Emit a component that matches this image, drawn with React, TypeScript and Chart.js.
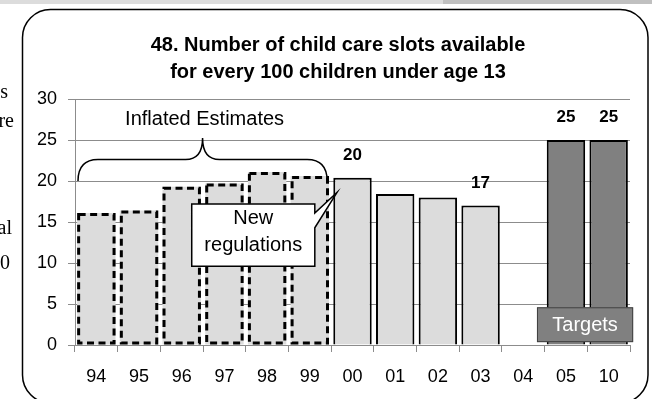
import React, { useEffect, useRef } from 'react';
import { Chart, registerables } from 'chart.js';

Chart.register(...registerables);

// ---------- data ----------
const years = ['94', '95', '96', '97', '98', '99', '00', '01', '02', '03', '04', '05', '10'];
const inflatedYears = ['94', '95', '96', '97', '98', '99'];
const inflatedValues = [16.1, 16.4, 19.3, 19.7, 21.1, 20.6];
const actualYears = ['00', '01', '02', '03'];
const actualValues = [20.4, 18.4, 18.0, 17.0];
const targetYears = ['05', '10'];
const targetValues = [25, 25];
const labelledYears = ['00', '03', '05', '10'];
const titleLines = ['48. Number of child care slots available', 'for every 100 children under age 13'];
const yMin = 0;
const yMax = 30;
const yStep = 5;
const braceLabel = 'Inflated Estimates';
const calloutLines = ['New', 'regulations'];
const targetsLabel = 'Targets';
const sideFragments = ['s', 're', 'al', '0'];

const SANS = '"Liberation Sans", Arial, Helvetica, sans-serif';
const SERIF = '"Liberation Serif", "Times New Roman", serif';

function seriesFor(keys: string[], values: number[]) {
  return years.map((y) => {
    const k = keys.indexOf(y);
    return k >= 0 ? values[k] : null;
  });
}

const inflatedData = seriesFor(inflatedYears, inflatedValues);
const actualData = seriesFor(actualYears, actualValues);
const targetData = seriesFor(targetYears, targetValues);

const decorPlugin = {
  id: 'decor',
  beforeDraw(chart: any) {
    const ctx = chart.ctx as CanvasRenderingContext2D;
    const W = chart.width;
    const H = chart.height;
    ctx.save();
    ctx.fillStyle = '#ffffff';
    ctx.fillRect(0, 0, W, H);
    // page band at top
    ctx.fillStyle = '#dcdcdc';
    ctx.fillRect(0, 0, 443, 4);
    ctx.fillStyle = '#c0c0c0';
    ctx.fillRect(443, 0, W - 443, 4);
    // rounded frame
    const fl = 22.5, ft = 9.5, fr = 648, fb = 403, r = 28;
    ctx.beginPath();
    ctx.moveTo(fl + r, ft);
    ctx.lineTo(fr - r, ft);
    ctx.arcTo(fr, ft, fr, ft + r, r);
    ctx.lineTo(fr, fb - r);
    ctx.arcTo(fr, fb, fr - r, fb, r);
    ctx.lineTo(fl + r, fb);
    ctx.arcTo(fl, fb, fl, fb - r, r);
    ctx.lineTo(fl, ft + r);
    ctx.arcTo(fl, ft, fl + r, ft, r);
    ctx.closePath();
    ctx.strokeStyle = '#000';
    ctx.lineWidth = 1.5;
    ctx.stroke();
    // clipped page text on the left
    const rights = [8, 14, 12, 10];
    const baselines = [98, 127, 234, 269];
    ctx.fillStyle = '#000';
    ctx.font = `20px ${SERIF}`;
    ctx.textAlign = 'right';
    ctx.textBaseline = 'alphabetic';
    sideFragments.forEach((t, i) => ctx.fillText(t, rights[i], baselines[i]));
    ctx.restore();
  },
  afterDatasetsDraw(chart: any) {
    const ctx = chart.ctx as CanvasRenderingContext2D;
    ctx.save();
    // dashed outlines for the inflated estimates
    const meta0 = chart.getDatasetMeta(0);
    ctx.strokeStyle = '#000';
    ctx.lineWidth = 3;
    ctx.setLineDash([7, 4.5]);
    meta0.data.forEach((bar: any, i: number) => {
      if (inflatedData[i] == null) return;
      const { x, y, base, width } = bar.getProps(['x', 'y', 'base', 'width'], true);
      ctx.strokeRect(x - width / 2 + 1.5, y + 1.5, width - 3, base - y - 3);
    });
    ctx.setLineDash([]);
    // value labels
    ctx.fillStyle = '#000';
    ctx.font = `bold 17px ${SANS}`;
    ctx.textAlign = 'center';
    ctx.textBaseline = 'middle';
    [1, 2].forEach((di) => {
      const meta = chart.getDatasetMeta(di);
      const data = chart.data.datasets[di].data;
      meta.data.forEach((bar: any, i: number) => {
        const v = data[i];
        if (v == null || !labelledYears.includes(years[i])) return;
        const { x, y } = bar.getProps(['x', 'y'], true);
        ctx.fillText(String(Math.round(v)), x, y - 22.5);
      });
    });
    ctx.restore();
  },
  afterDraw(chart: any) {
    const ctx = chart.ctx as CanvasRenderingContext2D;
    const xs = chart.scales.x;
    const ys = chart.scales.y;
    const catW = (xs.right - xs.left) / years.length;
    const px = (i: number) => xs.getPixelForValue(i);
    const py = (v: number) => ys.getPixelForValue(v);
    ctx.save();
    // brace over the inflated estimates
    const x0 = px(0) - catW / 2 + 3;
    const x1 = px(5) + catW / 2 - 4;
    const xm = (x0 + x1) / 2;
    const yEnd = py(20);
    const yMid = yEnd - 21.5;
    const yTip = yEnd - 43;
    ctx.beginPath();
    ctx.moveTo(x0, yEnd);
    ctx.quadraticCurveTo(x0, yMid, x0 + 20, yMid);
    ctx.lineTo(xm - 17, yMid);
    ctx.quadraticCurveTo(xm, yMid, xm, yTip);
    ctx.quadraticCurveTo(xm, yMid, xm + 17, yMid);
    ctx.lineTo(x1 - 20, yMid);
    ctx.quadraticCurveTo(x1, yMid, x1, yEnd);
    ctx.strokeStyle = '#000';
    ctx.lineWidth = 1.5;
    ctx.stroke();
    ctx.fillStyle = '#000';
    ctx.font = `20px ${SANS}`;
    ctx.textAlign = 'center';
    ctx.textBaseline = 'middle';
    ctx.fillText(braceLabel, xm + 2, py(25) - 21);

    // "New regulations" callout
    const bl = px(2) + 10;
    const br = px(5) + 5;
    const bt = py(17.2);
    const bb = py(9.6);
    const tail1 = py(16.1);
    const tail2 = py(14.3);
    const ax = px(6) - 15.5;
    const ay = py(18.6);
    ctx.beginPath();
    ctx.moveTo(bl, bt);
    ctx.lineTo(br, bt);
    ctx.lineTo(br, tail1);
    ctx.lineTo(ax, ay);
    ctx.lineTo(br, tail2);
    ctx.lineTo(br, bb);
    ctx.lineTo(bl, bb);
    ctx.closePath();
    ctx.fillStyle = '#fff';
    ctx.fill();
    ctx.strokeStyle = '#000';
    ctx.lineWidth = 1.5;
    ctx.stroke();
    ctx.fillStyle = '#000';
    ctx.font = `20px ${SANS}`;
    const cx = (bl + br) / 2;
    ctx.fillText(calloutLines[0], cx, bt + 14.5);
    ctx.fillText(calloutLines[1], cx, bt + 42);

    // "Targets" box
    const tl = px(11) - 29;
    const tr = px(12) + 24.5;
    const tt = py(4.6);
    const tb = py(0.35);
    ctx.fillStyle = '#808080';
    ctx.fillRect(tl, tt, tr - tl, tb - tt);
    ctx.strokeStyle = '#404040';
    ctx.lineWidth = 1;
    ctx.strokeRect(tl + 0.5, tt + 0.5, tr - tl - 1, tb - tt - 1);
    ctx.fillStyle = '#fff';
    ctx.font = `20px ${SANS}`;
    ctx.fillText(targetsLabel, (tl + tr) / 2, (tt + tb) / 2 + 1);
    ctx.restore();
  },
};

export default function App() {
  const ref = useRef<HTMLCanvasElement>(null);
  useEffect(() => {
    Chart.defaults.font.family = SANS;
    const common = { grouped: false, barPercentage: 0.9, categoryPercentage: 1 };
    const chart = new Chart(ref.current as HTMLCanvasElement, {
      type: 'bar',
      data: {
        labels: years,
        datasets: [
          { label: 'Inflated estimates', data: inflatedData, backgroundColor: '#dcdcdc', borderWidth: 0, ...common },
          { label: 'Slots available', data: actualData, backgroundColor: '#dcdcdc', borderColor: '#000', borderWidth: 2, ...common },
          { label: 'Targets', data: targetData, backgroundColor: '#808080', borderColor: '#000', borderWidth: 2, ...common },
        ] as any,
      },
      options: {
        responsive: false,
        animation: false,
        devicePixelRatio: 1,
        layout: { padding: { left: 30, right: 6, top: 0, bottom: 0 } },
        plugins: {
          legend: { display: false },
          tooltip: { enabled: false },
          title: {
            display: true,
            text: titleLines,
            color: '#000',
            font: { family: SANS, size: 20, weight: 'bold', lineHeight: 1.35 },
            padding: { top: 31.5, bottom: 13.5 },
          },
        },
        scales: {
          x: {
            afterFit: (s: any) => { s.height = 54; },
            grid: { drawOnChartArea: false, drawTicks: true, tickLength: 7, color: '#8c8c8c', offset: true },
            border: { color: '#8c8c8c', width: 1 },
            ticks: { color: '#000', font: { size: 18 }, padding: 14, autoSkip: false, maxRotation: 0 },
          },
          y: {
            min: yMin,
            max: yMax,
            afterFit: (s: any) => { s.width = 45; },
            grid: { color: '#8c8c8c', lineWidth: 1, drawTicks: true, tickLength: 7 },
            border: { color: '#8c8c8c', width: 1 },
            ticks: { stepSize: yStep, color: '#000', font: { size: 18 }, padding: 11 },
          },
          yRight: {
            position: 'right',
            display: true,
            afterFit: (s: any) => { s.width = 16; },
            grid: { display: false, drawOnChartArea: false },
            border: { display: false },
            ticks: { display: false },
          },
        },
      } as any,
      plugins: [decorPlugin],
    });
    return () => chart.destroy();
  }, []);
  return (
    <div style={{ position: 'absolute', left: 0, top: 0, width: 652, height: 399, background: '#fff' }}>
      <canvas ref={ref} width={652} height={399} style={{ display: 'block', width: 652, height: 399 }} />
    </div>
  );
}
